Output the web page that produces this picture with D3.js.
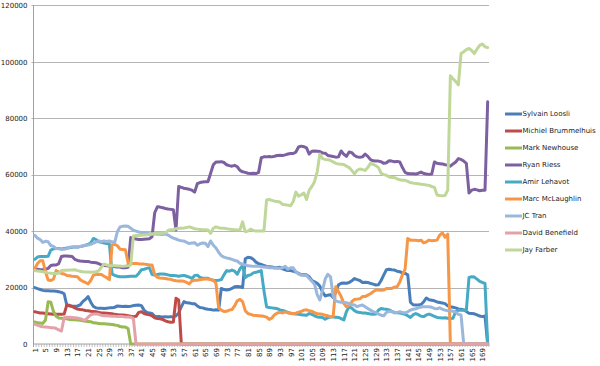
<!DOCTYPE html>
<html><head><meta charset="utf-8">
<script src="https://cdn.jsdelivr.net/npm/d3@7/dist/d3.min.js"></script>
<style>
body{margin:0;background:#fff}
svg{display:block}
text{font-family:"DejaVu Sans",Verdana,sans-serif;fill:#1a1a1a}
</style>
</head><body><svg id="c" width="600" height="366"></svg>
<script>
const categories = [
1,2,3,4,5,6,7,8,9,10,11,12,13,14,15,16,17,18,19,20,
21,22,23,24,25,26,27,28,29,30,31,32,33,34,35,36,37,38,39,40,
41,42,43,44,45,46,47,48,49,50,51,52,53,54,55,56,57,58,59,60,
61,62,63,64,65,66,67,68,69,70,71,72,73,74,75,76,77,78,79,80,
81,82,83,84,85,86,87,88,89,90,91,92,93,94,95,96,97,98,99,100,
101,102,103,104,105,106,107,108,109,110,111,112,113,114,115,116,117,118,119,120,
121,122,123,124,125,126,127,128,129,130,131,132,133,134,135,136,137,138,139,140,
141,142,143,144,145,146,147,148,149,150,151,152,153,154,155,156,157,158,159,160,
161,162,163,164,165,166,167,168,169,170,171];
const xTickLabels = [1,5,9,13,17,21,25,29,33,37,41,45,49,53,57,61,65,69,73,77,81,85,89,93,97,101,105,109,113,117,121,125,129,133,137,141,145,149,153,157,161,165,169];
const yTicks = [0,20000,40000,60000,80000,100000,120000];
const seriesNames = ["Sylvain Loosli","Michiel Brummelhuis","Mark Newhouse","Ryan Riess","Amir Lehavot","Marc McLaughlin","JC Tran","David Benefield","Jay Farber"];

const sylvain = [
20000,19600,19300,19000,18900,18900,18800,18800,18700,18500,
18300,17800,13800,13500,13400,13400,13500,13800,15000,15800,
16800,14800,13300,12800,12700,12700,12600,12700,12800,12800,
13000,13500,13400,13300,13400,13300,13400,13600,13700,13800,
13600,12000,11200,11000,10800,9800,9700,9700,9600,9700,
9600,9700,9600,10000,11000,13200,15000,14600,14500,14300,
14300,13500,12900,12800,12500,12300,12200,12000,12100,12000,
19700,19300,19100,19300,19700,20300,20400,20300,20000,30200,
30700,30600,30000,29000,28500,28200,27800,27500,27400,27300,
27000,27000,27200,26600,26300,26000,26000,25800,25500,25000,
24500,24500,24500,23800,22500,22000,21500,20500,18500,17000,
17300,17500,16500,18500,21000,21500,21600,21500,21800,22400,
23200,22800,22500,21800,21900,21800,21500,21200,20900,21000,
22500,24500,26300,26500,26300,26200,25800,25600,25200,25000,
24500,14800,13900,13800,13800,14000,15000,16300,15700,15500,
15300,14900,14700,14500,14300,13500,13200,13000,12800,12400,
12300,12100,11500,10900,10800,10700,10300,9900,9700,9900,
0];
const michiel = [
11400,11200,11000,11000,10800,10700,10600,10500,10500,10500,
10500,10600,13800,13700,13300,12800,12400,12200,12100,11900,
11800,11600,11500,11400,11200,11000,11000,10900,10800,10700,
10500,10400,10300,10300,10200,10000,9800,9700,9800,11200,
11400,10800,10500,10400,10000,9300,9000,8900,8700,8200,
7900,7700,7800,16200,15600,0,0,0,0,0,
0,0,0,0,0,0,0,0,0,0,0,0,0,0,0,0,0,0,0,0,
0,0,0,0,0,0,0,0,0,0,0,0,0,0,0,0,0,0,0,0,
0,0,0,0,0,0,0,0,0,0,0,0,0,0,0,0,0,0,0,0,
0,0,0,0,0,0,0,0,0,0,0,0,0,0,0,0,0,0,0,0,
0,0,0,0,0,0,0,0,0,0,0,0,0,0,0,0,0,0,0,0,
0,0,0,0,0,0,0,0,0,0,0];
const mark = [
7800,7500,7400,7300,8500,15000,14800,11500,9800,9200,
9100,9000,8900,8700,8600,8600,8500,8400,8200,8100,
8000,7900,7500,7400,7300,7200,7200,7100,7000,6900,
6700,6600,6200,6000,6000,5500,0,0,0,0,
0,0,0,0,0,0,0,0,0,0,0,0,0,0,0,0,0,0,0,0,
0,0,0,0,0,0,0,0,0,0,0,0,0,0,0,0,0,0,0,0,
0,0,0,0,0,0,0,0,0,0,0,0,0,0,0,0,0,0,0,0,
0,0,0,0,0,0,0,0,0,0,0,0,0,0,0,0,0,0,0,0,
0,0,0,0,0,0,0,0,0,0,0,0,0,0,0,0,0,0,0,0,
0,0,0,0,0,0,0,0,0,0,0,0,0,0,0,0,0,0,0,0,
0,0,0,0,0,0,0,0,0,0,0,0,0,0,0,0,0,0,0,0,
0,0,0,0,0,0,0,0,0,0,0];
const ryan = [
26500,26500,26300,26300,26500,26800,27800,28000,28000,28500,
31000,31200,31200,31100,31000,30000,29600,29400,29300,29200,
29200,29000,28900,28800,28500,28000,27800,27700,27600,27500,
27400,27300,27300,27000,27000,27200,37700,37400,37200,37000,
37000,37100,37200,37300,38000,46500,48600,48500,48300,48000,
47800,47700,47600,40400,55800,55500,55200,55000,54800,54500,
53800,56800,57200,57400,57500,57500,60500,63500,64500,64500,
64600,64300,63500,63200,63000,63300,62800,61500,61000,60800,
60500,60400,60500,60400,60800,66000,66300,66300,66400,66300,
66500,66800,66900,66800,67000,67300,67500,67500,68000,69800,
70100,69900,69500,67300,68300,68400,68300,68200,67700,67600,
66800,66600,66400,66200,66300,68400,67200,66500,68000,67800,
66800,66300,66200,66300,67300,66500,65300,64900,64800,64800,
64600,64000,64200,64900,64800,64600,64700,64500,62500,60800,
60400,60300,60300,60200,60500,60900,60400,60200,60100,60200,
64500,64000,63900,63800,63500,63400,63000,63800,64500,65700,
65400,64800,64000,53500,54500,54800,54600,54300,54500,54500,
85800];
const amir = [
30000,30800,31000,31000,31000,31100,33300,33700,33800,33800,
33700,33800,34000,34100,34300,34400,34400,34500,34700,35000,
35300,35800,37400,37000,36200,36000,35800,35600,35400,24800,
24300,24000,23800,23800,23800,23900,24000,24000,24000,25000,
26300,26500,26800,27000,24600,24400,24600,24800,24800,24700,
24500,24300,24300,24200,24000,24200,24300,24000,23700,23200,
24300,24400,23600,23300,23300,23300,22800,22600,22500,22600,
22800,24500,26000,25800,26200,25800,24700,26600,27800,23500,
24300,24500,25200,25400,25700,26000,19000,13200,12900,12800,
12700,12500,12100,11900,11600,11200,10900,10700,10600,10500,
10400,10300,10200,10800,10500,10000,9600,9500,9400,8800,
9300,9600,9600,9500,9400,9000,8500,11500,13200,12700,
11800,11300,11200,11000,11000,10800,10600,10500,10600,12000,
12600,12400,12300,12100,11600,11200,11100,11000,10800,10500,
10000,9400,10300,10800,10400,9800,9700,10300,10600,10200,
9800,9400,9300,9200,9300,9100,9000,9100,11500,12000,
12000,12000,12000,23600,23800,23700,23000,22200,21800,21500,
0];
const marc = [
26800,28500,29500,29500,25600,22700,22500,23000,26000,25500,
25000,24800,24300,24200,24000,23900,23800,22800,22200,21800,
21300,22500,24400,24600,24700,24600,24000,23500,22800,35200,
35300,34800,33600,33500,33400,28800,28600,28500,28500,28400,
28300,28300,28200,28000,28000,24600,23600,23400,23300,23200,
23000,22900,22600,22400,22300,22300,22200,21800,21300,22400,
22600,22600,22800,22900,23000,23000,22800,22600,21500,12800,
12000,11500,11600,12000,12200,13500,15300,15800,15000,11800,
10800,10500,10200,10100,10000,9900,9800,9500,8700,9200,
10400,11000,11200,11000,11400,11000,10900,10800,10900,11300,
11500,12000,12100,11800,11600,11100,10700,10600,10500,10200,
10000,9600,9800,20300,18500,16800,14400,13200,13600,15000,
15800,15900,16000,16800,16800,17300,17800,18500,19100,19100,
19000,19100,19700,19700,19700,20200,20300,22000,24500,26500,
37400,36800,36800,36800,36600,36800,35800,36200,36800,36600,
36700,36800,38600,39400,37800,38900,0,0,0,0,
0,0,0,0,0,0,0,0,0,0,
0];
const jcTran = [
38500,37500,37000,36000,36400,36200,34900,34600,33800,33700,
33600,33600,33800,34300,34400,34400,34300,34500,34800,35000,
35100,35300,35700,36200,36500,36300,36500,36300,36500,36200,
36000,39800,41500,41700,41800,41700,41000,40300,40000,39700,
39500,39300,39200,39100,39000,39000,38900,38900,38800,39000,
38600,38000,37500,37200,36800,36600,36500,36000,35600,35800,
35900,35000,35500,35800,35700,34500,36500,35000,34000,32500,
31300,30800,30500,30300,30000,29600,29400,28600,28300,28000,
27700,27600,27500,27600,27500,27400,27300,27200,27000,27000,
26900,26800,26800,27000,27500,26500,27000,27000,25600,24800,
24400,24300,24300,23200,22200,21200,17500,15600,19000,23000,
24700,23800,17000,15200,15000,14800,14700,14600,14300,14000,
13800,13200,13600,13800,13200,12600,12000,11400,11200,10600,
10200,10000,11200,11600,11400,11000,11200,11400,11200,11000,
11400,12000,12300,12500,12800,13100,13200,13200,13200,13000,
12600,12500,12800,12300,12000,11800,11800,11600,11300,10500,
10300,0,0,0,0,0,0,0,0,0,
0];
const david = [
7000,6700,6300,6100,6000,5900,5800,5800,5500,5000,
4600,9300,9500,9500,9400,9300,9200,9000,8600,8500,
9500,10300,10600,10600,10500,10200,10000,10000,9900,9800,
9800,9700,9700,9700,9600,9600,9500,9000,0,0,
0,0,0,0,0,0,0,0,0,0,0,0,0,0,0,0,0,0,0,0,
0,0,0,0,0,0,0,0,0,0,0,0,0,0,0,0,0,0,0,0,
0,0,0,0,0,0,0,0,0,0,0,0,0,0,0,0,0,0,0,0,
0,0,0,0,0,0,0,0,0,0,0,0,0,0,0,0,0,0,0,0,
0,0,0,0,0,0,0,0,0,0,0,0,0,0,0,0,0,0,0,0,
0,0,0,0,0,0,0,0,0,0,0,0,0,0,0,0,0,0,0,0,
0,0,0,0,0,0,0,0,0,0,0,0,0,0,0,0,0,0,0,0,
0,0,0,0,0,0,0,0,0,0,0];
const jay = [
26000,25900,25800,25600,25400,25200,25100,25000,25000,25100,
26000,26100,26100,26200,26200,26300,26000,25800,25600,25500,
25500,25400,25500,25600,26000,27200,28300,28000,27800,27700,
27700,27600,27600,27500,27600,27700,28000,38300,38400,38400,
38500,38600,38700,38800,39000,39200,39200,39200,39300,39400,
40200,40500,40600,40800,41000,41000,41100,41300,41500,41200,
40800,40700,40600,40500,40500,40400,39200,41000,41500,41200,
41000,41000,40800,40700,40600,40500,40400,40400,43300,39800,
40000,40700,40200,40000,40000,40000,40000,51000,51200,50900,
50600,50500,50300,49500,49300,49200,49000,50500,53800,52400,
52800,53500,51200,54500,55800,57500,61000,67300,65700,65400,
65300,65000,64500,64000,63800,63700,63600,63000,62500,61500,
60300,61500,62000,61800,61500,62500,64000,63600,63200,62500,
60500,60000,59800,59200,59000,59000,58500,58200,58000,58000,
57600,57200,57000,56900,56800,56600,56500,56300,56200,55800,
55500,52800,52600,52500,52600,54500,95000,94000,93000,91800,
102900,103500,104300,104700,104000,102900,104500,105800,106300,105300,
105000];

const seriesValues = [sylvain, michiel, mark, ryan, amir, marc, jcTran, david, jay];
const seriesColors = ["#4a7ebb","#be4b48","#98b954","#7d60a0","#46aac5","#f79646","#9bb8dc","#e3a1a8","#c0d79a"];

const svg = d3.select("#c");
const plotLeft = 33.5, plotRight = 489, plotTop = 5.3, plotBottom = 344;
const x = d3.scalePoint().domain(categories).range([plotLeft, plotRight]).padding(0.5);
const y = d3.scaleLinear().domain([0, 120000]).range([plotBottom, plotTop]);
const fontSize = "7px";

// gridlines
svg.append("g").selectAll("line").data(yTicks.slice(1)).join("line")
  .attr("x1", plotLeft - 2).attr("x2", plotRight)
  .attr("y1", (d) => Math.round(y(d)) + 0.5).attr("y2", (d) => Math.round(y(d)) + 0.5)
  .attr("stroke", "#b5b5b5").attr("stroke-width", 1);

// y labels via axis
const yAxis = d3.axisLeft(y).tickValues(yTicks).tickSize(0).tickPadding(6).tickFormat(d3.format("d"));
const yg = svg.append("g").attr("transform", `translate(${plotLeft},0)`).call(yAxis);
yg.select(".domain").remove();
yg.selectAll(".tick line").remove();
yg.selectAll(".tick text").attr("font-size", fontSize).attr("fill", "#1a1a1a")
  .style("font-family", "'DejaVu Sans',Verdana,sans-serif");

// y axis line
svg.append("line").attr("x1", plotLeft).attr("x2", plotLeft).attr("y1", plotTop).attr("y2", plotBottom + 3)
  .attr("stroke", "#a0a0a0").attr("shape-rendering", "crispEdges");

// x axis with category tick marks
const step = x.step();
const bounds = categories.map((c) => x(c) - step / 2).concat([x(categories[categories.length - 1]) + step / 2]);
svg.append("g").selectAll("line").data(bounds).join("line")
  .attr("x1", (d) => d).attr("x2", (d) => d).attr("y1", plotBottom).attr("y2", plotBottom + 3)
  .attr("stroke", "#a8a8a8").attr("stroke-width", 0.7);
svg.append("line").attr("x1", plotLeft).attr("x2", plotRight).attr("y1", plotBottom).attr("y2", plotBottom)
  .attr("stroke", "#a0a0a0");

const xAxis = d3.axisBottom(x).tickValues(xTickLabels).tickSize(0).tickPadding(0);
const xg = svg.append("g").attr("transform", `translate(0,${plotBottom})`).call(xAxis);
xg.select(".domain").remove();
xg.selectAll(".tick text")
  .attr("transform", "rotate(-90)")
  .attr("text-anchor", "end")
  .attr("x", -4).attr("y", 0).attr("dy", "0.35em")
  .attr("font-size", fontSize).attr("fill", "#1a1a1a")
  .style("font-family", "'DejaVu Sans',Verdana,sans-serif");

// lines
const line = d3.line().x((d, i) => x(categories[i])).y((d) => y(d));
svg.append("g").selectAll("path").data(seriesValues).join("path")
  .attr("d", (d) => line(d))
  .attr("fill", "none")
  .attr("stroke", (d, i) => seriesColors[i])
  .attr("stroke-width", 3)
  .attr("stroke-linejoin", "round")
  .attr("stroke-linecap", "round");

// legend
const lg = svg.append("g").attr("transform", "translate(505,114)");
const items = lg.selectAll("g").data(seriesNames).join("g")
  .attr("transform", (d, i) => `translate(0,${i * 17})`);
items.append("line").attr("x1", 0).attr("x2", 17).attr("y1", 0).attr("y2", 0)
  .attr("stroke", (d, i) => seriesColors[i]).attr("stroke-width", 3);
items.append("text").attr("x", 17.5).attr("y", 0).attr("dy", "0.35em")
  .attr("font-size", fontSize).attr("fill", "#1a1a1a").text((d) => d);
</script>
</body></html>
